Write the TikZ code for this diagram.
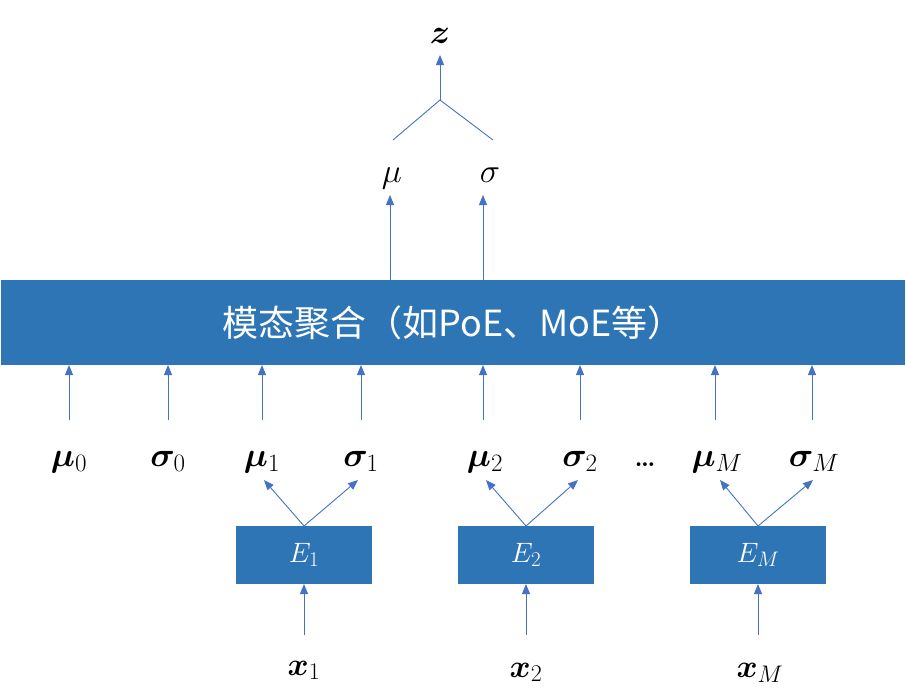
\RequirePackage{fix-cm}
\documentclass[tikz,border=0pt]{standalone}
\usepackage{amsmath}
\usepackage{bm}
\usepackage{fontspec}
\newfontfamily\cjk{Noto Sans CJK SC}
\usetikzlibrary{arrows.meta}
\DeclareMathSizes{34}{34}{25}{18}
\DeclareMathSizes{32}{32}{24}{17}
\DeclareMathSizes{28}{28}{21}{15}
\definecolor{boxblue}{HTML}{2E75B6}
\definecolor{linkblue}{HTML}{4472C4}
\tikzset{
  arr/.style={draw=linkblue, line width=0.9pt, -{Triangle[length=10pt,width=8pt]}},
  plainline/.style={draw=linkblue, line width=0.9pt},
  bigbox/.style={fill=boxblue, draw=none, inner sep=0pt, outer sep=0pt, minimum width=904pt, minimum height=85pt, text=white, font=\cjk\fontsize{36}{40}\selectfont},
  encbox/.style={fill=boxblue, draw=none, inner sep=0pt, outer sep=0pt, minimum width=136pt, minimum height=58pt, text=white, font=\fontsize{28}{32}\selectfont},
  lab/.style={anchor=base, inner sep=0pt, font=\fontsize{34}{38}\selectfont},
  xlab/.style={anchor=base, inner sep=0pt, font=\fontsize{32}{36}\selectfont}
}
\begin{document}
\begin{tikzpicture}[x=1pt,y=-1pt]
\useasboundingbox (0,0) rectangle (906,694);
% aggregation box
\node[bigbox] (agg) at (453,322.5) {模态聚合（如PoE、MoE等）};
% top part
\node[lab] (z) at (440,43) {$\bm{z}$};
\node[lab] (mu) at (392,182) {$\mu$};
\node[lab] (sigma) at (490,182) {$\sigma$};
\coordinate (join) at (440,100);
\coordinate (muend) at (393,140);
\coordinate (sigend) at (493,140);
\coordinate (mutip) at (390,195);
\coordinate (sigtip) at (483,195);
\draw[plainline] (muend) -- (join) -- (sigend);
\draw[arr] (join) -- (440,55);
\draw[arr] (agg.north -| mutip) -- (mutip);
\draw[arr] (agg.north -| sigtip) -- (sigtip);
% labels row
\node[lab] (m0) at (69,466) {$\bm{\mu}_0$};
\node[lab] (s0) at (168,466) {$\bm{\sigma}_0$};
\node[lab] (m1) at (262,466) {$\bm{\mu}_1$};
\node[lab] (s1) at (361,466) {$\bm{\sigma}_1$};
\node[lab] (m2) at (485,466) {$\bm{\mu}_2$};
\node[lab] (s2) at (580,466) {$\bm{\sigma}_2$};
\node[lab, font=\fontsize{26}{30}\selectfont\bfseries] (dots) at (645,466) {…};
\node[lab] (mM) at (717,466) {$\bm{\mu}_M$};
\node[lab] (sM) at (814,466) {$\bm{\sigma}_M$};
% arrows into aggregation box
\foreach \n/\x in {m0/69,s0/168,m1/262,s1/361,m2/483,s2/580,mM/715,sM/812}{
  \coordinate (\n bot) at (\x,420);
  \draw[arr] (\n bot) -- (agg.south -| \n bot);
}
% encoders
\node[encbox] (e1) at (304,555) {$E_1$};
\node[encbox] (e2) at (526,555) {$E_2$};
\node[encbox] (eM) at (758,555) {$E_M$};
\coordinate (t1a) at (264,480); \coordinate (t1b) at (358,480);
\coordinate (t2a) at (486,480); \coordinate (t2b) at (578,480);
\coordinate (tMa) at (720,480); \coordinate (tMb) at (813,480);
\draw[arr] (e1.north) -- (t1a); \draw[arr] (e1.north) -- (t1b);
\draw[arr] (e2.north) -- (t2a); \draw[arr] (e2.north) -- (t2b);
\draw[arr] (eM.north) -- (tMa); \draw[arr] (eM.north) -- (tMb);
% inputs
\node[xlab] (x1) at (304,675) {$\bm{x}_1$};
\node[xlab] (x2) at (526,677) {$\bm{x}_2$};
\node[xlab] (xM) at (760,677) {$\bm{x}_M$};
\coordinate (i1) at (304,635); \coordinate (i2) at (526,635); \coordinate (iM) at (758,635);
\draw[arr] (i1) -- (e1.south);
\draw[arr] (i2) -- (e2.south);
\draw[arr] (iM) -- (eM.south);
\end{tikzpicture}
\end{document}
